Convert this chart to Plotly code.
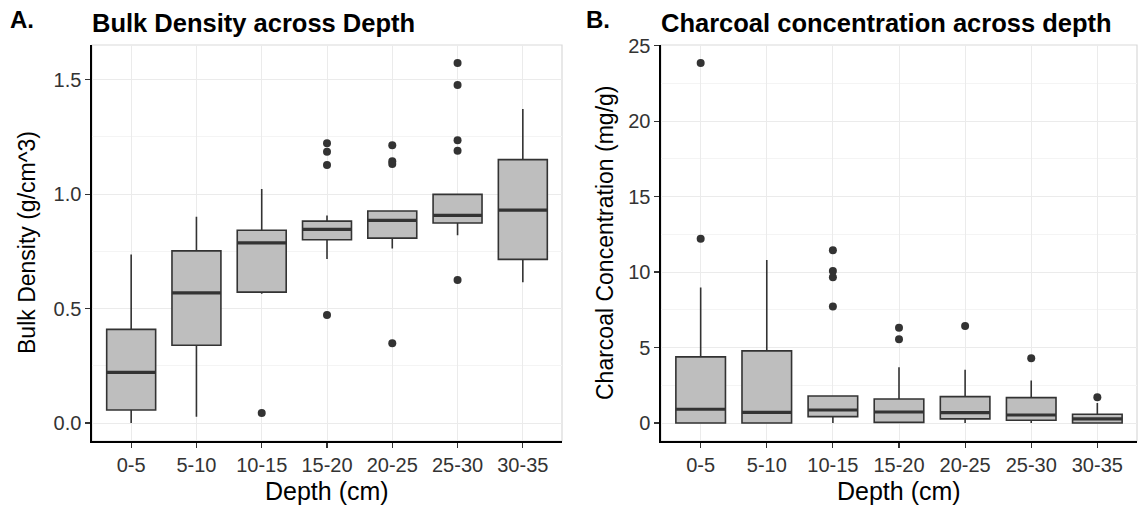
import plotly.graph_objects as go

# ---------------- data ----------------
depths = ["0-5", "5-10", "10-15", "15-20", "20-25", "25-30", "30-35"]

# Bulk density (g/cm^3) box statistics
bd_lower = [0.00, 0.027, 0.565, 0.717, 0.762, 0.820, 0.615]
bd_q1 = [0.057, 0.340, 0.572, 0.801, 0.808, 0.874, 0.715]
bd_median = [0.221, 0.569, 0.787, 0.846, 0.885, 0.907, 0.930]
bd_q3 = [0.409, 0.752, 0.842, 0.882, 0.926, 0.999, 1.151]
bd_upper = [0.736, 0.901, 1.022, 0.907, 0.926, 0.999, 1.372]
bd_out_depth = ["10-15", "15-20", "15-20", "15-20", "15-20",
                "20-25", "20-25", "20-25", "20-25",
                "25-30", "25-30", "25-30", "25-30", "25-30"]
bd_out_value = [0.044, 1.222, 1.185, 1.127, 0.472,
                1.214, 1.144, 1.132, 0.348,
                1.573, 1.477, 1.235, 1.190, 0.625]

# Charcoal concentration (mg/g) box statistics
cc_lower = [0.00, 0.00, 0.00, 0.04, 0.00, 0.00, 0.00]
cc_q1 = [0.00, 0.00, 0.42, 0.04, 0.27, 0.18, 0.00]
cc_median = [0.91, 0.71, 0.86, 0.73, 0.69, 0.53, 0.27]
cc_q3 = [4.38, 4.78, 1.79, 1.59, 1.75, 1.68, 0.58]
cc_upper = [8.98, 10.80, 1.79, 3.69, 3.52, 2.81, 1.33]
cc_out_depth = ["0-5", "0-5", "10-15", "10-15", "10-15", "10-15",
                "15-20", "15-20", "20-25", "25-30", "30-35"]
cc_out_value = [23.85, 12.2, 11.44, 10.07, 9.65, 7.72,
                6.31, 5.55, 6.42, 4.29, 1.70]

bd_ticks = [0.0, 0.5, 1.0, 1.5]
cc_ticks = [0, 5, 10, 15, 20, 25]

# ---------------- style ----------------
W, H = 1139, 508
FONT = "Liberation Sans, Arial, Helvetica, sans-serif"
FILL = "#BEBEBE"
EDGE = "#333333"
BOXW = 0.75
GRID = "#EBEBEB"
MINOR = "#F4F4F4"

idx = {d: i for i, d in enumerate(depths)}

fig = go.Figure()


def add_panel(xa, ya, lower, q1, med, q3, upper, out_d, out_v):
    xs = list(range(len(depths)))
    fig.add_trace(go.Box(
        x=xs, q1=q1, median=med, q3=q3, lowerfence=lower, upperfence=upper,
        xaxis=xa, yaxis=ya, width=BOXW, whiskerwidth=0,
        fillcolor=FILL, line=dict(color=EDGE, width=1.6),
        boxpoints=False, showlegend=False, hoverinfo="skip"))
    # thicker median bars (ggplot fatten)
    mx, my = [], []
    for i, m in enumerate(med):
        mx += [i - BOXW / 2, i + BOXW / 2, None]
        my += [m, m, None]
    fig.add_trace(go.Scatter(x=mx, y=my, mode="lines", xaxis=xa, yaxis=ya,
                             line=dict(color=EDGE, width=3.2),
                             showlegend=False, hoverinfo="skip"))
    fig.add_trace(go.Scatter(x=[idx[d] for d in out_d], y=out_v, mode="markers",
                             xaxis=xa, yaxis=ya,
                             marker=dict(color=EDGE, size=8),
                             showlegend=False, hoverinfo="skip"))


add_panel("x", "y", bd_lower, bd_q1, bd_median, bd_q3, bd_upper, bd_out_depth, bd_out_value)
add_panel("x2", "y2", cc_lower, cc_q1, cc_median, cc_q3, cc_upper, cc_out_depth, cc_out_value)

# panel geometry (pixels)
L1, R1 = 92, 562
L2, R2 = 661, 1137
T, B = 45, 441

xdom1 = [L1 / W, R1 / W]
xdom2 = [L2 / W, R2 / W]
ydom = [1 - B / H, 1 - T / H]


def xaxis(dom, anchor):
    return dict(domain=dom, anchor=anchor, range=[-0.6, len(depths) - 0.4],
                tickmode="array", tickvals=list(range(len(depths))), ticktext=depths,
                showgrid=True, gridcolor=GRID, gridwidth=1,
                showline=True, linecolor="#000000", linewidth=1.6,
                ticks="outside", ticklen=5, tickwidth=1.2, tickcolor=EDGE,
                tickfont=dict(family=FONT, size=20, color="#333333"),
                zeroline=False, fixedrange=True, automargin=False)


def yaxis(anchor, rng, tv, dmin, fmt):
    return dict(domain=ydom, anchor=anchor, range=rng,
                tickmode="array", tickvals=tv, ticktext=[fmt.format(v) for v in tv],
                showgrid=True, gridcolor=GRID, gridwidth=1,
                minor=dict(dtick=dmin, tick0=0, showgrid=True, gridcolor=MINOR, gridwidth=1, ticks=""),
                showline=True, linecolor="#000000", linewidth=1.6,
                ticks="outside", ticklen=5, tickwidth=1.2, tickcolor=EDGE,
                tickfont=dict(family=FONT, size=20, color="#333333"),
                zeroline=False, fixedrange=True, automargin=False)


bd_rng = [min(bd_lower + bd_out_value), max(bd_upper + bd_out_value)]
bd_pad = 0.05 * (bd_rng[1] - bd_rng[0])
cc_rng = [min(cc_lower + cc_out_value), max(cc_upper + cc_out_value)]
cc_pad = 0.05 * (cc_rng[1] - cc_rng[0])

fig.update_layout(
    width=W, height=H,
    margin=dict(l=0, r=0, t=0, b=0, autoexpand=False),
    paper_bgcolor="white", plot_bgcolor="white",
    font=dict(family=FONT, color="#000000"),
    xaxis=xaxis(xdom1, "y"),
    yaxis=yaxis("x", [bd_rng[0] - bd_pad, bd_rng[1] + bd_pad], bd_ticks, 0.25, "{:.1f}"),
    xaxis2=xaxis(xdom2, "y2"),
    yaxis2=yaxis("x2", [cc_rng[0] - cc_pad, cc_rng[1] + cc_pad], cc_ticks, 2.5, "{:d}"),
)

# light panel border (top / right)
for xr, yr in (("x domain", "y domain"), ("x2 domain", "y2 domain")):
    fig.add_shape(type="rect", xref=xr, yref=yr, x0=0, x1=1, y0=0, y1=1,
                  line=dict(color="#D9D9D9", width=1.2), layer="below")


def ann(text, x, y, size, bold=False, angle=0, xanchor="left", yanchor="middle"):
    fig.add_annotation(text=f"<b>{text}</b>" if bold else text,
                       x=x / W, y=1 - y / H, xref="paper", yref="paper",
                       showarrow=False, textangle=angle,
                       xanchor=xanchor, yanchor=yanchor,
                       font=dict(family=FONT, size=size, color="#000000"))


ann("A.", 8, 19, 24, bold=True)
ann("Bulk Density across Depth", L1 - 2, 23, 25.5, bold=True)
ann("B.", 584, 19, 24, bold=True)
ann("Charcoal concentration across depth", L2 - 2, 23, 25.5, bold=True)
ann("Bulk Density (g/cm^3)", 27, (T + B) / 2, 23, angle=-90, xanchor="center")
ann("Charcoal Concentration (mg/g)", 605, (T + B) / 2, 23, angle=-90, xanchor="center")
ann("Depth (cm)", (L1 + R1) / 2, 491, 25, xanchor="center")
ann("Depth (cm)", (L2 + R2) / 2, 491, 25, xanchor="center")

fig.write_html(
    "out.html",
    config={"displayModeBar": False, "staticPlot": True},
    post_script="document.body.style.margin='0';document.body.style.overflow='hidden';",
)
